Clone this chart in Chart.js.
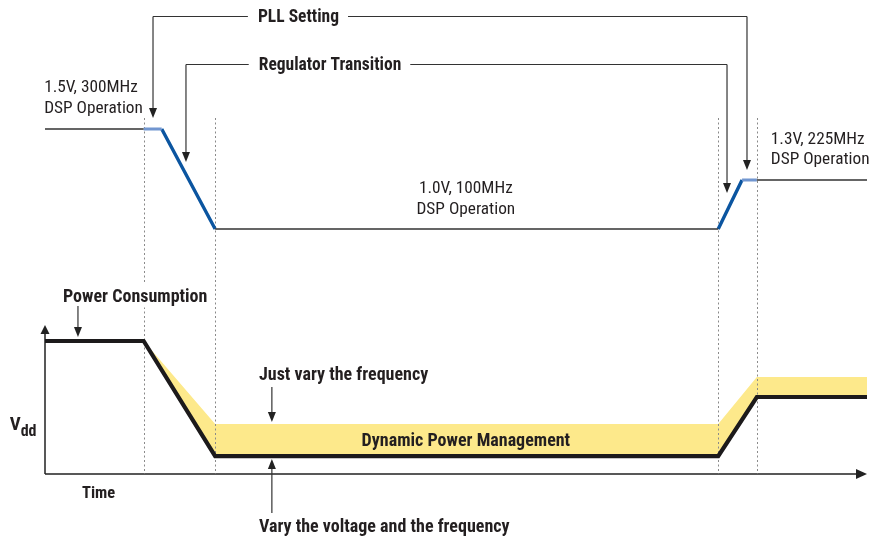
<!DOCTYPE html>
<html><head><meta charset="utf-8">
<script src="https://cdn.jsdelivr.net/npm/chart.js@4/dist/chart.umd.min.js"></script>
<style>html,body{margin:0;padding:0;background:#fff}#wrap{width:878px;height:536px;position:relative}</style>
</head><body><div id="wrap"><canvas id="c"></canvas></div>
<script>
// ---- Data (time in arbitrary units 0..100) ----
// Top trace: DSP supply/clock operating state (drawn level: 1.5V=100, 1.0V=0, 1.3V=49)
const dspTimes = [0, 12.0, 14.2, 20.7, 81.9, 84.8, 86.6, 100];
const dspLevel = [100, 100, 100, 0, 0, 49, 49, 49];
const dspPhase = ['steady', 'pll', 'regulator', 'steady', 'regulator', 'pll', 'steady'];
const stateLabels = [['1.5V, 300MHz', 'DSP Operation'], ['1.0V, 100MHz', 'DSP Operation'], ['1.3V, 225MHz', 'DSP Operation']];
// Bottom: power consumption (% of max)
const pwrTimes = [0, 12.0, 20.7, 81.9, 86.6, 100];
const pwrVoltFreq = [100, 100, 13.5, 13.5, 57.9, 57.9];
const pwrFreqOnly = [100, 100, 37.6, 37.6, 72.9, 72.9];
const guideTimes = [12.0, 20.7, 81.9, 86.6];

const FONT = '"Liberation Sans Narrow", "Roboto Condensed", "DejaVu Sans Condensed", "Arial Narrow", sans-serif';
const INK = '#231f20';

function phaseData(kind) {
  const pts = [];
  for (let i = 0; i < dspPhase.length; i++) {
    if (dspPhase[i] !== kind) continue;
    pts.push({x: dspTimes[i], y: dspLevel[i]}, {x: dspTimes[i + 1], y: dspLevel[i + 1]}, {x: dspTimes[i + 1], y: null});
  }
  return pts;
}
const zip = (xs, ys) => xs.map((x, i) => ({x, y: ys[i]}));

const YELLOW_IDX = 4;

const anno = {
  id: 'anno',
  beforeDatasetsDraw(chart) {
    const {ctx, scales: s} = chart;
    const x0 = s.x.getPixelForValue(0), x1 = s.x.getPixelForValue(100);
    const y0 = s.yP.getPixelForValue(0), yTop = s.yP.getPixelForValue(112);
    ctx.save();
    ctx.strokeStyle = '#222'; ctx.fillStyle = '#222'; ctx.lineWidth = 1.5;
    ctx.beginPath(); ctx.moveTo(x0, y0); ctx.lineTo(x1 - 6, y0); ctx.moveTo(x0, y0); ctx.lineTo(x0, yTop + 6); ctx.stroke();
    ctx.beginPath(); ctx.moveTo(x1, y0); ctx.lineTo(x1 - 11, y0 - 5); ctx.lineTo(x1 - 11, y0 + 5); ctx.closePath(); ctx.fill();
    ctx.beginPath(); ctx.moveTo(x0, yTop); ctx.lineTo(x0 - 4.5, yTop + 9); ctx.lineTo(x0 + 4.5, yTop + 9); ctx.closePath(); ctx.fill();
    ctx.restore();
  },
  afterDatasetDraw(chart, args) {
    if (args.index !== YELLOW_IDX) return;
    const {ctx, scales: s} = chart;
    ctx.save();
    ctx.strokeStyle = '#8a8a8a'; ctx.lineWidth = 1; ctx.setLineDash([2, 2.5]);
    const yT = s.yV.getPixelForValue(111), yB = s.yP.getPixelForValue(0);
    guideTimes.forEach(t => {
      const x = Math.round(s.x.getPixelForValue(t)) + 0.5;
      ctx.beginPath(); ctx.moveTo(x, yT); ctx.lineTo(x, yB); ctx.stroke();
    });
    ctx.restore();
  },
  afterDatasetsDraw(chart) {
    const {ctx, scales: s} = chart;
    const X = t => s.x.getPixelForValue(t);
    const YV = v => s.yV.getPixelForValue(v);
    const YP = v => s.yP.getPixelForValue(v);
    const arrow = (xa, ya, xb, yb) => {
      ctx.save(); ctx.strokeStyle = '#333'; ctx.fillStyle = '#222'; ctx.lineWidth = 1.2;
      const dir = Math.sign(yb - ya);
      ctx.beginPath(); ctx.moveTo(xa, ya); ctx.lineTo(xb, yb - dir * 8); ctx.stroke();
      ctx.beginPath(); ctx.moveTo(xb, yb); ctx.lineTo(xb - 4, yb - dir * 10); ctx.lineTo(xb + 4, yb - dir * 10); ctx.closePath(); ctx.fill();
      ctx.restore();
    };
    const text = (str, x, y, opt = {}) => {
      ctx.save();
      ctx.font = (opt.bold ? 'bold ' : '') + (opt.size || 17.3) + 'px ' + FONT;
      ctx.fillStyle = INK; ctx.textBaseline = 'middle'; ctx.textAlign = opt.align || 'left';
      const w = ctx.measureText(str).width;
      if (opt.bg) {
        const lx = opt.align === 'center' ? x - w / 2 : x;
        ctx.fillStyle = '#fff'; ctx.fillRect(lx - 2, y - 12, w + 4, 24); ctx.fillStyle = INK;
      }
      ctx.fillText(str, x, y + 1.5);
      ctx.restore();
      return w;
    };
    // bracket callouts
    const callout = (label, tLabel, level, tLeft, tipLeft, tRight, tipRight) => {
      const xl = X(tLabel), y = Math.round(YV(level)) + 0.5;
      const w = text(label, xl, y - 0.5, {bold: true, size: 17.5});
      ctx.save(); ctx.strokeStyle = '#333'; ctx.lineWidth = 1.2;
      ctx.beginPath();
      ctx.moveTo(X(tLeft), y); ctx.lineTo(xl - 10, y);
      ctx.moveTo(xl + w + 9, y); ctx.lineTo(X(tRight), y);
      ctx.stroke(); ctx.restore();
      arrow(X(tLeft), y, X(tLeft), YV(tipLeft));
      arrow(X(tRight), y, X(tRight), YV(tipRight));
    };
    callout('PLL Setting', 25.9, 213, 13.14, 111, 85.4, 59);
    callout('Regulator Transition', 26.0, 165.5, 17.15, 67, 82.97, 36);
    // operating state labels
    text(stateLabels[0][0], X(-0.1), YV(143)); text(stateLabels[0][1], X(-0.1), YV(122));
    text(stateLabels[1][0], X(51.2), YV(42), {align: 'center'}); text(stateLabels[1][1], X(51.2), YV(21), {align: 'center'});
    text(stateLabels[2][0], X(88.3), YV(91)); text(stateLabels[2][1], X(88.3), YV(71));
    // bottom annotations
    text('Power Consumption', X(2.19), YP(134.2), {bold: true, bg: true, size: 18});
    arrow(X(4.01), YP(126.3), X(4.01), YP(103));
    text('Just vary the frequency', X(26.03), YP(75.2), {bold: true, size: 18});
    arrow(X(27.6), YP(65.4), X(27.6), YP(39.1));
    text('Dynamic Power Management', X(51.2), YP(25.6), {bold: true, align: 'center', size: 18});
    text('Vary the voltage and the frequency', X(26.03), YP(-39.1), {bold: true, size: 18});
    arrow(X(27.6), YP(-29.3), X(27.6), YP(11.3));
    // axis labels
    const wv = text('V', X(-4.3), YP(38), {bold: true, size: 19});
    text('dd', X(-4.3) + wv, YP(33), {bold: true, size: 16});
    text('Time', X(4.5), YP(-13.5), {bold: true, size: 16.5});
  }
};

new Chart(document.getElementById('c'), {
  type: 'line',
  data: {
    datasets: [
      {data: phaseData('steady'), yAxisID: 'yV', borderColor: '#333', borderWidth: 1.3, order: 1},
      {data: phaseData('pll'), yAxisID: 'yV', borderColor: '#7196d0', borderWidth: 3.2, order: 1},
      {data: phaseData('regulator'), yAxisID: 'yV', borderColor: '#0b55a0', borderWidth: 3.4, order: 1},
      {data: zip(pwrTimes, pwrVoltFreq), yAxisID: 'yP', borderColor: '#1c1a1b', borderWidth: 4.2, order: 0},
      {data: zip(pwrTimes, pwrFreqOnly), yAxisID: 'yP', borderWidth: 0, borderColor: 'rgba(0,0,0,0)', backgroundColor: '#fde98b', fill: 3, order: 9}
    ]
  },
  options: {
    responsive: true, maintainAspectRatio: false, animation: false,
    layout: {padding: {left: 45, right: 11, top: 0, bottom: 0}},
    elements: {point: {radius: 0, hoverRadius: 0}, line: {tension: 0, borderCapStyle: 'butt', borderJoinStyle: 'miter'}},
    datasets: {line: {clip: false, spanGaps: false}},
    events: [],
    plugins: {legend: {display: false}, tooltip: {enabled: false}},
    scales: {
      x: {type: 'linear', min: 0, max: 100, display: false},
      yV: {type: 'linear', min: -307, max: 229, display: false},
      yP: {type: 'linear', min: -46.617, max: 356.391, display: false}
    }
  },
  plugins: [anno]
});
</script>
</body></html>
